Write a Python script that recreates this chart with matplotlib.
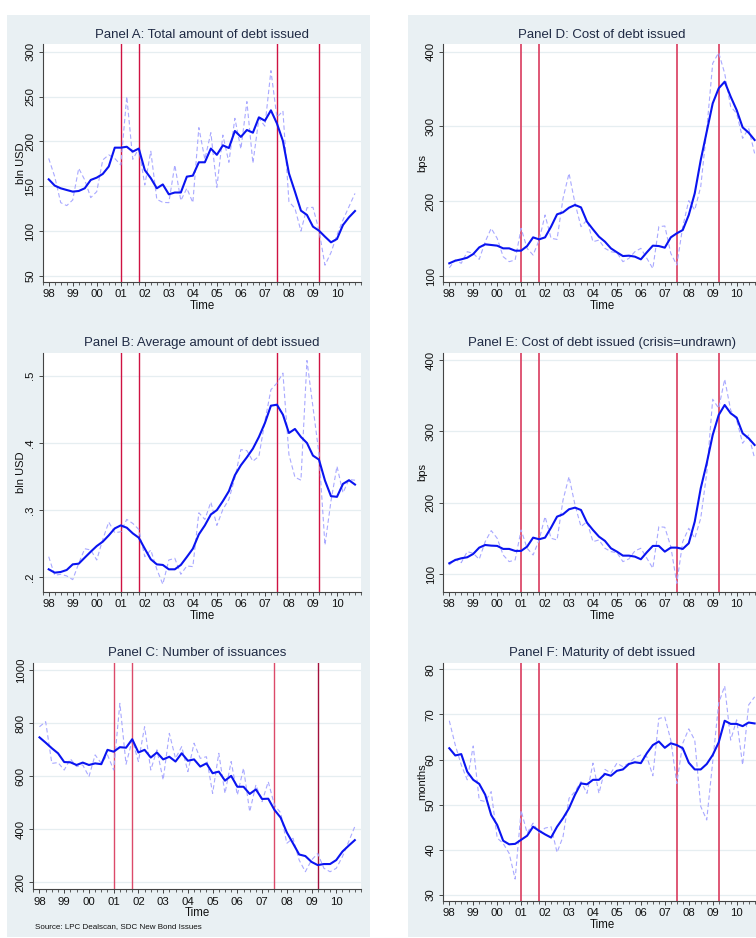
import numpy as np
import pandas as pd
import matplotlib
matplotlib.use("Agg")
import matplotlib.pyplot as plt
from matplotlib import font_manager as fm
from matplotlib.patches import Rectangle
from matplotlib.ticker import FixedLocator, MultipleLocator

# ---------------- data ----------------
periods = pd.period_range("1998Q1", "2010Q4", freq="Q")
year_labels = ["98", "99", "00", "01", "02", "03", "04", "05", "06", "07", "08", "09", "10"]
crisis_dates = [2001.0, 2001.75, 2007.5, 2009.25]

total_ma = [157.7, 150.7, 147.7, 145.8, 144.0, 144.7, 147.7, 157.0, 159.6, 163.7, 172.0, 193.0,
            193.0, 194.0, 188.6, 192.0, 168.0, 159.0, 147.7, 152.0, 141.0, 143.0, 143.0, 160.7,
            161.8, 176.7, 176.7, 192.0, 185.0, 195.6, 192.6, 211.6, 205.0, 212.7, 209.7, 226.8,
            223.0, 234.6, 220.0, 200.4, 164.4, 144.0, 122.8, 118.0, 105.0, 100.5, 93.8, 87.5,
            91.2, 106.8, 115.4, 122.4]
total_q = [181.0, 160.7, 131.7, 128.4, 134.7, 170.0, 157.0, 137.3, 144.0, 179.3, 185.0, 181.0,
           173.7, 250.0, 180.0, 192.0, 151.4, 189.0, 135.4, 132.0, 131.7, 173.7, 134.0, 147.7,
           131.7, 215.3, 180.0, 209.7, 148.8, 207.0, 176.7, 225.7, 191.5, 244.3, 175.6, 225.7,
           217.0, 278.8, 226.8, 233.9, 132.8, 125.4, 100.0, 126.0, 126.5, 101.0, 62.0, 76.0,
           95.7, 112.4, 127.3, 142.0]

avg_ma = [.2114, .2064, .2074, .2104, .2188, .2198, .2288, .2377, .2461, .2526, .2620, .2724,
          .2769, .2734, .2650, .2585, .2421, .2263, .2188, .2179, .2114, .2114, .2179, .2298,
          .2421, .2635, .2769, .2932, .2997, .3131, .3279, .3517, .3666, .3785, .3914, .4088,
          .4296, .4554, .4569, .4420, .4147, .4207, .4088, .3998, .3810, .3750, .3438, .3205,
          .3195, .3388, .3443, .3378]
avg_q = [.2302, .2025, .2040, .2015, .1960, .2203, .2421, .2402, .2253, .2560, .2818, .2659,
         .2674, .2858, .2798, .2709, .2302, .2402, .2114, .1891, .2253, .2278, .2040, .2164,
         .2154, .2957, .2858, .3116, .2769, .3007, .3155, .3478, .3899, .3884, .3726, .3800,
         .4321, .4792, .4891, .5040, .3825, .3488, .3443, .5228, .4534, .3840, .2476, .3131,
         .3651, .3255, .3453, .3443]

num_ma = [746, 726, 705, 686, 653, 652, 642, 651, 642, 648, 645, 699,
          692, 709, 707, 739, 689, 699, 670, 689, 663, 673, 655, 686,
          658, 663, 636, 648, 611, 617, 583, 601, 560, 560, 533, 550,
          514, 515, 473, 444, 388, 347, 305, 299, 277, 265, 269, 269,
          284, 316, 338, 359]
num_q = [786, 805, 648, 651, 623, 665, 636, 642, 598, 680, 648, 680,
         623, 874, 645, 736, 655, 786, 623, 699, 586, 761, 667, 711,
         617, 724, 667, 673, 535, 686, 535, 655, 529, 630, 466, 567,
         504, 579, 491, 462, 347, 366, 284, 240, 284, 309, 253, 240,
         253, 297, 353, 410]

cost_ma = [117.0, 120.5, 122.3, 124.5, 129.4, 138.3, 142.4, 141.5, 140.6, 137.0, 137.0, 133.9,
           133.9, 140.1, 151.7, 149.0, 151.7, 166.0, 182.5, 185.2, 191.4, 195.0, 191.8, 172.7,
           162.4, 152.6, 145.9, 137.0, 131.7, 126.7, 127.2, 125.9, 122.3, 131.7, 140.6, 140.1,
           137.9, 151.7, 157.1, 161.5, 181.6, 210.6, 255.1, 293.0, 330.9, 351.0, 359.9, 339.9,
           322.0, 298.8, 291.7, 281.9]
cost_q = [111.0, 121.4, 117.0, 132.5, 130.3, 122.3, 145.9, 163.8, 150.4, 125.9, 119.2, 121.4,
          163.8, 137.0, 128.0, 148.0, 181.6, 150.4, 149.0, 203.9, 237.3, 197.2, 166.0, 174.9,
          145.9, 148.0, 137.0, 132.5, 131.2, 119.2, 123.6, 132.5, 137.0, 123.6, 110.0, 166.0,
          166.9, 130.3, 114.7, 166.0, 200.8, 188.3, 219.5, 295.3, 384.4, 398.7, 371.0, 326.5,
          317.6, 284.1, 297.5, 264.0]

costu_ma = [115.4, 120.0, 122.4, 123.8, 128.5, 137.3, 141.0, 140.1, 139.7, 135.5, 135.5, 132.7,
            132.7, 138.7, 151.3, 149.0, 151.3, 165.3, 180.7, 184.0, 191.0, 193.3, 190.0, 172.3,
            162.0, 152.7, 146.7, 136.4, 131.7, 126.1, 126.1, 124.7, 121.0, 130.8, 139.7, 139.7,
            131.7, 137.3, 137.3, 135.5, 143.4, 173.7, 220.4, 255.4, 295.0, 323.0, 337.0, 325.4,
            319.3, 297.4, 290.4, 281.0]
costu_q = [113.0, 121.0, 116.3, 131.7, 129.4, 121.0, 145.7, 161.1, 150.4, 127.0, 117.7, 120.0,
           162.0, 136.4, 127.0, 148.0, 180.7, 150.4, 148.0, 204.0, 236.7, 197.0, 166.7, 173.7,
           145.7, 148.0, 136.4, 131.7, 130.3, 117.7, 121.5, 132.7, 136.4, 122.4, 108.4, 166.7,
           165.8, 138.7, 87.4, 145.7, 164.4, 150.4, 178.4, 241.4, 345.0, 332.4, 373.0, 330.0,
           316.0, 283.4, 295.0, 262.4]

mat_ma = [62.5, 60.9, 61.2, 57.3, 55.5, 54.6, 52.2, 47.7, 45.5, 42.0, 41.2, 41.3,
          42.2, 43.1, 45.1, 44.2, 43.4, 42.7, 45.1, 47.0, 49.2, 52.2, 54.7, 54.5,
          55.5, 55.5, 56.8, 56.4, 57.5, 57.8, 59.0, 59.4, 59.2, 61.4, 63.2, 64.0,
          62.6, 63.6, 63.2, 62.5, 59.3, 57.8, 57.8, 59.0, 61.0, 63.8, 68.6, 67.9,
          67.9, 67.4, 68.2, 68.0]
mat_q = [68.6, 63.2, 58.8, 55.5, 63.0, 51.0, 50.7, 52.9, 42.6, 41.4, 39.2, 33.5,
         48.7, 43.7, 45.9, 43.7, 44.8, 45.1, 39.4, 42.9, 51.4, 52.9, 55.1, 52.5,
         59.2, 52.5, 57.8, 57.0, 59.2, 58.4, 59.2, 60.4, 61.0, 60.6, 56.4, 69.1,
         69.4, 64.3, 54.7, 63.6, 66.8, 64.3, 49.6, 46.6, 59.5, 72.5, 76.3, 64.3,
         68.8, 58.8, 72.1, 73.9]

# ---------------- style ----------------
names = {f.name for f in fm.fontManager.ttflist}
fam = "Liberation Sans Narrow" if "Liberation Sans Narrow" in names else "Liberation Sans"
plt.rcParams["font.family"] = [fam, "DejaVu Sans"]

W, H = 756, 938
BG = "#e9f0f3"
TXT = "#1f2a44"
AXC = "#444444"
BLUE = "#0a14f0"
LAV = "#a9a9ff"

x = np.array([p.year + (p.quarter - 1) / 4 for p in periods])

fig = plt.figure(figsize=(W / 100, H / 100), dpi=100, facecolor="white")


def fx(px):
    return px / W


def fy(py):
    return 1 - py / H


# column backgrounds (drawn beneath the axes)
fig.patches.append(Rectangle((fx(7), fy(937)), fx(370) - fx(7), fy(15) - fy(937),
                             transform=fig.transFigure, facecolor=BG, edgecolor="none", zorder=-5))
fig.patches.append(Rectangle((fx(408), fy(937)), fx(800) - fx(408), fy(15) - fy(937),
                             transform=fig.transFigure, facecolor=BG, edgecolor="none", zorder=-5))

PX = 0.72  # points per pixel


def panel(box, title, ma, q, yticks, ylabels, ylim, ylabel, vcolors, vlw, xlabel=True):
    x0, y0, x1, y1 = box
    ax = fig.add_axes([fx(x0), fy(y1), fx(x1) - fx(x0), fy(y0) - fy(y1)])
    ax.set_facecolor("white")
    for s in ("top", "right"):
        ax.spines[s].set_visible(False)
    for s in ("left", "bottom"):
        ax.spines[s].set_color(AXC)
        ax.spines[s].set_linewidth(0.8)
    ax.set_xlim(1997.75, 2011.0)
    ax.set_ylim(*ylim)
    ax.xaxis.set_major_locator(FixedLocator(np.arange(1998, 2011)))
    ax.set_xticklabels(year_labels)
    ax.xaxis.set_minor_locator(MultipleLocator(0.25))
    ax.yaxis.set_major_locator(FixedLocator(yticks))
    ax.set_yticklabels(ylabels)
    ax.tick_params(axis="both", which="major", direction="out", length=3.2, width=0.7,
                   color=AXC, labelsize=8.2, labelcolor="#111111", pad=2.2)
    ax.tick_params(axis="x", which="minor", direction="out", length=2.2, width=0.6, color=AXC)
    ax.tick_params(axis="y", labelrotation=90)
    for lab in ax.get_yticklabels():
        lab.set_va("center")
    ax.yaxis.grid(True, color="#e6eef1", lw=0.9)
    ax.set_axisbelow(True)

    for d, c in zip(crisis_dates, vcolors):
        ax.axvline(d, color=c, lw=vlw, zorder=2)
    ax.plot(x, q, color=LAV, lw=0.8, ls=(0, (4, 2.5)), zorder=3)
    ax.plot(x, ma, color=BLUE, lw=1.5, zorder=4)

    ax.annotate(title, xy=(0.5, 1), xycoords="axes fraction", xytext=(0, 9.8 * PX),
                textcoords="offset points", ha="center", va="center", fontsize=9.5, color=TXT)
    if xlabel:
        ax.annotate("Time", xy=(0.5, 0), xycoords="axes fraction", xytext=(0, -24 * PX),
                    textcoords="offset points", ha="center", va="center", fontsize=8.3,
                    color="#111111")
    if ylabel:
        ax.annotate(ylabel, xy=(0, 0.5), xycoords="axes fraction", xytext=(-21.5 * PX, 0),
                    textcoords="offset points", ha="center", va="center", rotation=90,
                    fontsize=8, color="#111111")
    return ax


RED = "#cf1242"
PINK = "#dc4a6a"

panel((42.7, 44.3, 361, 281.7), "Panel A: Total amount of debt issued", total_ma, total_q,
      [50, 100, 150, 200, 250, 300], ["50", "100", "150", "200", "250", "300"],
      (43.6, 308.2), "bln USD", [RED] * 4, 1.0)
panel((42.7, 353, 361, 591.7), "Panel B: Average amount of debt issued", avg_ma, avg_q,
      [0.2, 0.3, 0.4, 0.5], [".2", ".3", ".4", ".5"],
      (0.178, 0.534), "bln USD", [RED] * 4, 1.0)
panel((33.3, 663, 361, 889), "Panel C: Number of issuances", num_ma, num_q,
      [200, 400, 600, 800, 1000], ["200", "400", "600", "800", "1000"],
      (175, 1026), None, [PINK, PINK, PINK, "#a3103c"], 1.0)
panel((443.3, 44.3, 760.6, 281.7), "Panel D: Cost of debt issued", cost_ma, cost_q,
      [100, 200, 300, 400], ["100", "200", "300", "400"],
      (92.4, 409.9), "bps", [PINK] * 4, 1.3)
panel((443.3, 353, 760.6, 591.7), "Panel E: Cost of debt issued (crisis=undrawn)", costu_ma, costu_q,
      [100, 200, 300, 400], ["100", "200", "300", "400"],
      (75.6, 409.8), "bps", [PINK] * 4, 1.3)
panel((443.3, 663, 760.6, 900.7), "Panel F: Maturity of debt issued", mat_ma, mat_q,
      [30, 40, 50, 60, 70, 80], ["30", "40", "50", "60", "70", "80"],
      (28.7, 81.4), "months", [PINK] * 4, 1.3)

fig.text(fx(35), fy(926.7), "Source: LPC Dealscan, SDC New Bond Issues", ha="left", va="center",
         fontsize=5.8, color="#111111")

fig.savefig("out.png", dpi=100, facecolor="white")
